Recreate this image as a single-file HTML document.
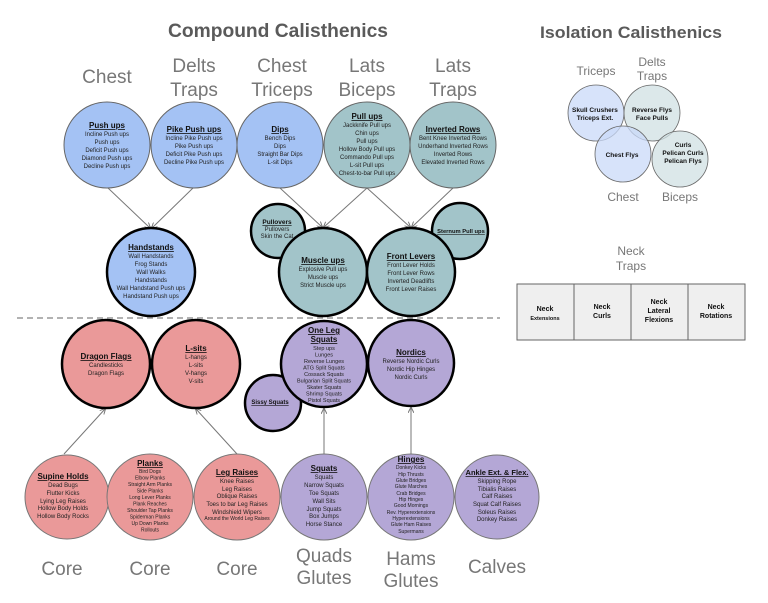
<!DOCTYPE html>
<html><head><meta charset="utf-8"><style>
html,body{margin:0;padding:0;background:#fff}
svg{display:block}
.t{font-family:"Liberation Sans",sans-serif;font-weight:bold;font-size:8px;text-decoration:underline;fill:#111;text-anchor:middle}
.s{font-family:"Liberation Sans",sans-serif;font-size:6px;fill:#222;text-anchor:middle}
.s5 text{font-size:5px}
.s55 text{font-size:5.5px}
.m{font-family:"Liberation Sans",sans-serif;font-size:19px;fill:#777;text-anchor:middle}
.mi text{font-size:12px}
.h{font-family:"Liberation Sans",sans-serif;font-weight:bold;fill:#5a5a5a;text-anchor:middle}
.i{font-family:"Liberation Sans",sans-serif;font-weight:bold;font-size:6.5px;fill:#111;text-anchor:middle}
.l{stroke:#777;stroke-width:1;fill:none}
</style></head><body>
<svg width="768" height="603" viewBox="0 0 768 603" xmlns="http://www.w3.org/2000/svg">
<defs><marker id="a" markerWidth="6" markerHeight="6" refX="5" refY="3" orient="auto"><path d="M0,0 L6,3 L0,6" fill="none" stroke="#777" stroke-width="1"/></marker></defs>

<text class="h" x="278" y="37" style="font-size:19px" textLength="220" lengthAdjust="spacingAndGlyphs">Compound Calisthenics</text>
<text class="h" x="631" y="38" style="font-size:17px" textLength="182" lengthAdjust="spacingAndGlyphs">Isolation Calisthenics</text>

<g class="m">
<text x="107" y="83">Chest</text>
<text x="194" y="72">Delts</text><text x="194" y="96">Traps</text>
<text x="282" y="72">Chest</text><text x="282" y="96">Triceps</text>
<text x="367" y="72">Lats</text><text x="367" y="96">Biceps</text>
<text x="453" y="72">Lats</text><text x="453" y="96">Traps</text>
<text x="62" y="575">Core</text><text x="150" y="575">Core</text><text x="237" y="575">Core</text>
<text x="324" y="562">Quads</text><text x="324" y="584">Glutes</text>
<text x="411" y="565">Hams</text><text x="411" y="587">Glutes</text>
<text x="497" y="573">Calves</text>
</g>

<g class="l" marker-end="url(#a)">
<line x1="108" y1="188" x2="150" y2="228"/>
<line x1="193" y1="188" x2="152" y2="228"/>
<line x1="280" y1="188" x2="322" y2="227"/>
<line x1="367" y1="188" x2="324" y2="227"/>
<line x1="367" y1="188" x2="410" y2="227"/>
<line x1="453" y1="188" x2="412" y2="227"/>
<line x1="64" y1="454" x2="105" y2="409"/>
<line x1="237" y1="454" x2="196" y2="409"/>
<line x1="324" y1="454" x2="324" y2="409"/>
<line x1="411" y1="454" x2="411" y2="408"/>
</g>
<line x1="17" y1="318" x2="500" y2="318" stroke="#666" stroke-width="1" stroke-dasharray="6,4"/>

<g stroke="#666" stroke-width="1">
<circle cx="107" cy="145" r="43" fill="#a4c2f4"/>
<circle cx="194" cy="145" r="43" fill="#a4c2f4"/>
<circle cx="280" cy="145" r="43" fill="#a4c2f4"/>
<circle cx="367" cy="145" r="43" fill="#a2c4c9"/>
<circle cx="453" cy="145" r="43" fill="#a2c4c9"/>
</g>
<text class="t" x="107" y="128">Push ups</text>
<g class="s"><text x="107" y="136">Incline Push ups</text><text x="107" y="144">Push ups</text><text x="107" y="152">Deficit Push ups</text><text x="107" y="160">Diamond Push ups</text><text x="107" y="168">Decline Push ups</text></g>
<text class="t" x="194" y="132">Pike Push ups</text>
<g class="s"><text x="194" y="140">Incline Pike Push ups</text><text x="194" y="148">Pike Push ups</text><text x="194" y="156">Deficit Pike Push ups</text><text x="194" y="164">Decline Pike Push ups</text></g>
<text class="t" x="280" y="132">Dips</text>
<g class="s"><text x="280" y="140">Bench Dips</text><text x="280" y="148">Dips</text><text x="280" y="156">Straight Bar Dips</text><text x="280" y="164">L-sit Dips</text></g>
<text class="t" x="367" y="119">Pull ups</text>
<g class="s"><text x="367" y="127">Jackknife Pull ups</text><text x="367" y="135">Chin ups</text><text x="367" y="143">Pull ups</text><text x="367" y="151">Hollow Body Pull ups</text><text x="367" y="159">Commando Pull ups</text><text x="367" y="167">L-sit Pull ups</text><text x="367" y="175">Chest-to-bar Pull ups</text></g>
<text class="t" x="453" y="132">Inverted Rows</text>
<g class="s"><text x="453" y="140">Bent Knee Inverted Rows</text><text x="453" y="148">Underhand Inverted Rows</text><text x="453" y="156">Inverted Rows</text><text x="453" y="164">Elevated Inverted Rows</text></g>

<g stroke="#000" stroke-width="2.5">
<circle cx="278" cy="231" r="27" fill="#a2c4c9"/>
<circle cx="460" cy="231" r="28" fill="#a2c4c9"/>
<circle cx="151" cy="272" r="44" fill="#a4c2f4"/>
<circle cx="323" cy="272" r="44" fill="#a2c4c9"/>
<circle cx="411" cy="272" r="44" fill="#a2c4c9"/>
</g>
<text class="t" x="277" y="224" style="font-size:6.5px">Pullovers</text>
<g class="s"><text x="277" y="231">Pullovers</text><text x="277" y="238">Skin the Cat</text></g>
<text class="t" x="461" y="233" style="font-size:5.8px">Sternum Pull ups</text>
<text class="t" x="151" y="250">Handstands</text>
<g class="s"><text x="151" y="258">Wall Handstands</text><text x="151" y="266">Frog Stands</text><text x="151" y="274">Wall Walks</text><text x="151" y="282">Handstands</text><text x="151" y="290">Wall Handstand Push ups</text><text x="151" y="298">Handstand Push ups</text></g>
<text class="t" x="323" y="263">Muscle ups</text>
<g class="s"><text x="323" y="271">Explosive Pull ups</text><text x="323" y="279">Muscle ups</text><text x="323" y="287">Strict Muscle ups</text></g>
<text class="t" x="411" y="259">Front Levers</text>
<g class="s"><text x="411" y="267">Front Lever Holds</text><text x="411" y="275">Front Lever Rows</text><text x="411" y="283">Inverted Deadlifts</text><text x="411" y="291">Front Lever Raises</text></g>

<g stroke="#000" stroke-width="2.5">
<circle cx="273" cy="403" r="28" fill="#b4a7d6"/>
<circle cx="106" cy="364" r="44" fill="#ea9999"/>
<circle cx="196" cy="364" r="44" fill="#ea9999"/>
<circle cx="324" cy="364" r="43" fill="#b4a7d6"/>
<circle cx="411" cy="363" r="43" fill="#b4a7d6"/>
</g>
<text class="t" x="106" y="359">Dragon Flags</text>
<g class="s"><text x="106" y="367">Candlesticks</text><text x="106" y="375">Dragon Flags</text></g>
<text class="t" x="196" y="351">L-sits</text>
<g class="s"><text x="196" y="359">L-hangs</text><text x="196" y="367">L-sits</text><text x="196" y="375">V-hangs</text><text x="196" y="383">V-sits</text></g>
<text class="t" x="270" y="404" style="font-size:6px">Sissy Squats</text>
<text class="t" x="324" y="333">One Leg</text><text class="t" x="324" y="342">Squats</text>
<g class="s s55"><text x="324" y="350">Step ups</text><text x="324" y="356.5">Lunges</text><text x="324" y="363">Reverse Lunges</text><text x="324" y="369.5">ATG Split Squats</text><text x="324" y="376">Cossack Squats</text><text x="324" y="382.5">Bulgarian Split Squats</text><text x="324" y="389">Skater Squats</text><text x="324" y="395.5">Shrimp Squats</text><text x="324" y="402">Pistol Squats</text></g>
<text class="t" x="411" y="355">Nordics</text>
<g class="s"><text x="411" y="363">Reverse Nordic Curls</text><text x="411" y="371">Nordic Hip Hinges</text><text x="411" y="379">Nordic Curls</text></g>

<g stroke="#777" stroke-width="1">
<circle cx="67" cy="497" r="42" fill="#ea9999"/>
<circle cx="150" cy="497" r="43" fill="#ea9999"/>
<circle cx="237" cy="497" r="43" fill="#ea9999"/>
<circle cx="324" cy="497" r="43" fill="#b4a7d6"/>
<circle cx="411" cy="497" r="43" fill="#b4a7d6"/>
<circle cx="497" cy="497" r="42" fill="#b4a7d6"/>
</g>
<text class="t" x="63" y="479">Supine Holds</text>
<g class="s"><text x="63" y="487">Dead Bugs</text><text x="63" y="495">Flutter Kicks</text><text x="63" y="503">Lying Leg Raises</text><text x="63" y="510">Hollow Body Holds</text><text x="63" y="518">Hollow Body Rocks</text></g>
<text class="t" x="150" y="466">Planks</text>
<g class="s s5"><text x="150" y="473">Bird Dogs</text><text x="150" y="479.5">Elbow Planks</text><text x="150" y="486">Straight Arm Planks</text><text x="150" y="492.5">Side Planks</text><text x="150" y="499">Long Lever Planks</text><text x="150" y="505.5">Plank Reaches</text><text x="150" y="512">Shoulder Tap Planks</text><text x="150" y="518.5">Spiderman Planks</text><text x="150" y="525">Up Down Planks</text><text x="150" y="531.5">Rollouts</text></g>
<text class="t" x="237" y="475">Leg Raises</text>
<g class="s"><text x="237" y="483">Knee Raises</text><text x="237" y="491">Leg Raises</text><text x="237" y="498">Oblique Raises</text><text x="237" y="506">Toes to bar Leg Raises</text><text x="237" y="514">Windshield Wipers</text><text x="237" y="520" style="font-size:5px">Around the World Leg Raises</text></g>
<text class="t" x="324" y="471">Squats</text>
<g class="s"><text x="324" y="479">Squats</text><text x="324" y="487">Narrow Squats</text><text x="324" y="495">Toe Squats</text><text x="324" y="503">Wall Sits</text><text x="324" y="511">Jump Squats</text><text x="324" y="518">Box Jumps</text><text x="324" y="526">Horse Stance</text></g>
<text class="t" x="411" y="462">Hinges</text>
<g class="s s5"><text x="411" y="469">Donkey Kicks</text><text x="411" y="476">Hip Thrusts</text><text x="411" y="482">Glute Bridges</text><text x="411" y="488">Glute Marches</text><text x="411" y="495">Crab Bridges</text><text x="411" y="501">Hip Hinges</text><text x="411" y="507">Good Mornings</text><text x="411" y="514">Rev. Hyperextensions</text><text x="411" y="520">Hyperextensions</text><text x="411" y="526">Glute Ham Raises</text><text x="411" y="533">Supermans</text></g>
<text class="t" x="497" y="475" style="font-size:7.5px">Ankle Ext. &amp; Flex.</text>
<g class="s"><text x="497" y="483">Skipping Rope</text><text x="497" y="491">Tibialis Raises</text><text x="497" y="498">Calf Raises</text><text x="497" y="506">Squat Calf Raises</text><text x="497" y="514">Soleus Raises</text><text x="497" y="521">Donkey Raises</text></g>

<g class="m mi">
<text x="596" y="75">Triceps</text>
<text x="652" y="66">Delts</text><text x="652" y="80">Traps</text>
<text x="623" y="201">Chest</text>
<text x="680" y="201">Biceps</text>
<text x="631" y="255">Neck</text><text x="631" y="270">Traps</text>
</g>
<g stroke="#666" stroke-width="0.8" fill-opacity="0.75">
<circle cx="596" cy="113" r="28" fill="#c9daf8"/>
<circle cx="652" cy="113" r="28" fill="#d0e0e3"/>
<circle cx="623" cy="154" r="28" fill="#c9daf8"/>
<circle cx="680" cy="159" r="28" fill="#d0e0e3"/>
</g>
<text class="i" x="595" y="112">Skull Crushers</text><text class="i" x="595" y="120">Triceps Ext.</text>
<text class="i" x="652" y="112">Reverse Flys</text><text class="i" x="652" y="120">Face Pulls</text>
<text class="i" x="622" y="157">Chest Flys</text>
<text class="i" x="683" y="147">Curls</text><text class="i" x="683" y="155">Pelican Curls</text><text class="i" x="683" y="163">Pelican Flys</text>

<g stroke="#666" stroke-width="1" fill="#efefef">
<rect x="517" y="284" width="57" height="56"/>
<rect x="574" y="284" width="57" height="56"/>
<rect x="631" y="284" width="57" height="56"/>
<rect x="688" y="284" width="57" height="56"/>
</g>
<g class="i" style="font-size:7px">
<text x="545" y="311">Neck</text><text x="545" y="320" style="font-size:5.5px">Extensions</text>
<text x="602" y="309">Neck</text><text x="602" y="318">Curls</text>
<text x="659" y="304">Neck</text><text x="659" y="313">Lateral</text><text x="659" y="322">Flexions</text>
<text x="716" y="309">Neck</text><text x="716" y="318">Rotations</text>
</g>
</svg>
</body></html>
